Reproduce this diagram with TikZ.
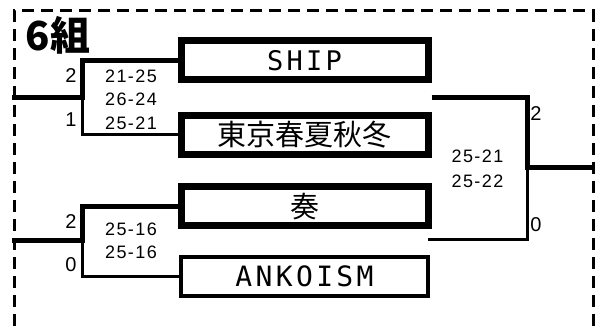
\documentclass[tikz,border=0pt]{standalone}
\usepackage{fontspec}
\setmainfont{Liberation Sans}
\newfontfamily\jpfont{Noto Sans CJK JP}
\newfontfamily\teamfont[LetterSpace=12]{DejaVu Sans Mono}
\newfontfamily\scorefont[LetterSpace=8]{Liberation Sans}

\begin{document}
\begin{tikzpicture}[x=1pt,y=-1pt,
team/.style={draw,line width=7pt,minimum width=247pt,minimum height=39pt,inner sep=0pt},
win/.style={line width=5pt},
lose/.style={line width=3pt},
score/.style={font=\scorefont\fontsize{18}{18}\selectfont,inner sep=0pt},
wins/.style={font=\fontsize{20}{20}\selectfont,inner sep=0pt}]
\useasboundingbox (0,0) rectangle (595,328);
\draw[line width=3pt,dash pattern=on 12pt off 7pt] (14,345) |- (593,11) -- (593,345);
\node[font=\jpfont\bfseries\fontsize{40}{40}\selectfont,inner sep=0pt] (title) at (58,35) {6組};
\node[team] (ship) at (304.5,60.5) {\teamfont\fontsize{27}{27}\selectfont SHIP};
\node[team] (tokyo) at (304.5,135) {\jpfont\fontsize{29}{29}\selectfont 東京春夏秋冬};
\node[team] (kanade) at (304.5,206.5) {\jpfont\fontsize{29}{29}\selectfont 奏};
\node[team,line width=4.5pt] (ankoism) at (304.5,276.5) {\teamfont\fontsize{28}{28}\selectfont ANKOISM};
\coordinate (in1) at (12,98);
\coordinate (j1) at (82,98);
\coordinate (in2) at (12,241);
\coordinate (j2) at (82,241);
\coordinate (s1) at (ship.east |- j1);
\coordinate (s2) at (428,240);
\coordinate (j3) at (527,168);
\coordinate (out) at (598,168);
\draw[lose] (j1) |- (tokyo.west);
\draw[win] (in1) -- (j1) |- (ship.west);
\draw[lose] (j2) |- (ankoism.west);
\draw[win] (in2) -- (j2) |- (kanade.west);
\draw[lose] (s2) -| (j3);
\draw[win] (s1) -| (j3) -- (out);
\node[wins] (w1) at (71,76) {2};
\node[wins] (l1) at (71,120) {1};
\node[score] (sc1a) at (131,76) {21-25};
\node[score] (sc1b) at (131,99) {26-24};
\node[score] (sc1c) at (131,123.5) {25-21};
\node[wins] (w2) at (71,222) {2};
\node[wins] (l2) at (71,265) {0};
\node[score] (sc2a) at (131,229.5) {25-16};
\node[score] (sc2b) at (131,252.5) {25-16};
\node[wins] (w3) at (536,113.5) {2};
\node[wins] (l3) at (536,225) {0};
\node[score] (sc3a) at (477.5,156) {25-21};
\node[score] (sc3b) at (477.5,181.5) {25-22};
\end{tikzpicture}
\end{document}
